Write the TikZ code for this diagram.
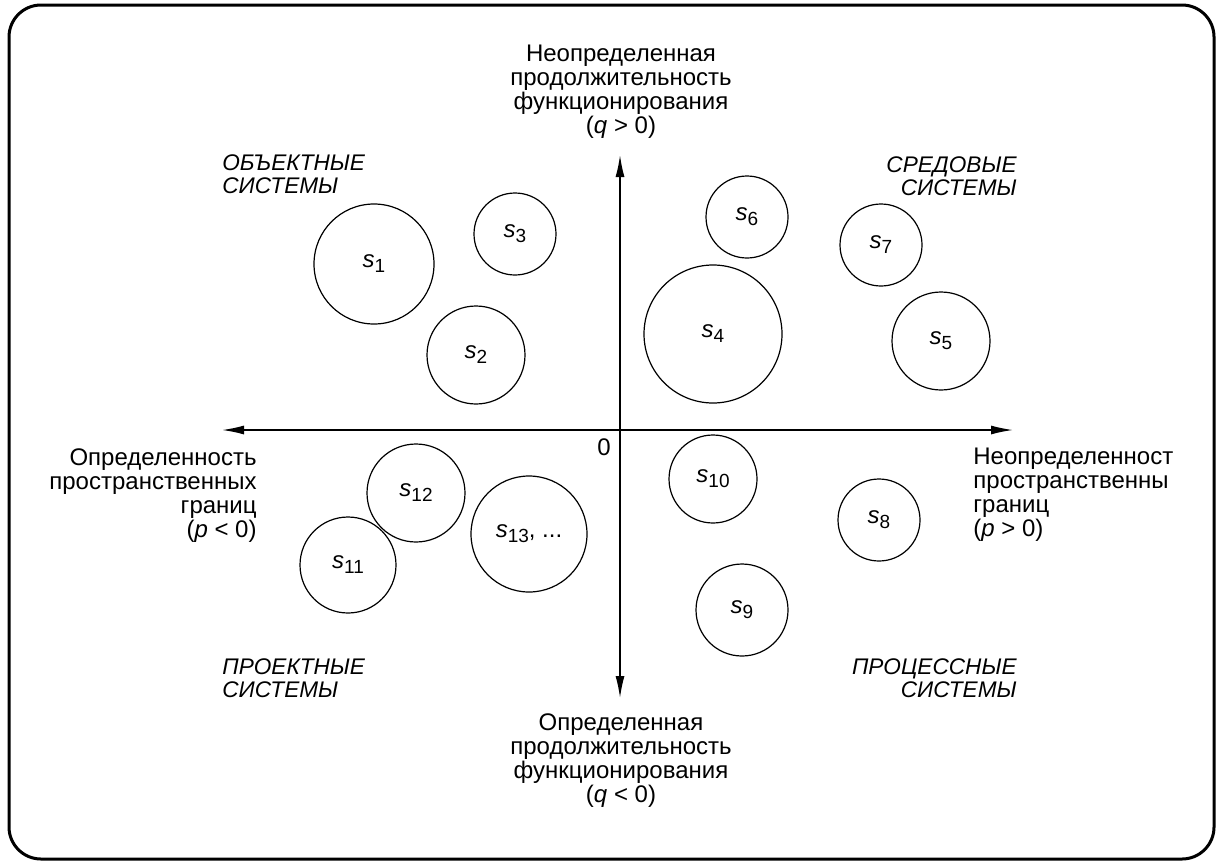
\documentclass[tikz,border=0pt]{standalone}
\usepackage{fontspec}
\setmainfont{Liberation Sans}
\usetikzlibrary{arrows.meta}

\newcommand{\sysl}[1]{\textit{s}{\fontsize{9.5}{10}\selectfont\raisebox{-2.5pt}{#1}}}

\begin{document}
\begin{tikzpicture}[x=0.5pt,y=-0.5pt,font=\fontsize{12}{12}\selectfont]

\tikzset{
    sys/.style={circle,draw,line width=0.6pt,inner sep=0pt,minimum size=#1},
    lbl/.style={inner sep=0pt,align=#1},
    quad/.style={inner sep=0pt,align=#1,font=\fontsize{11.3}{11.5}\selectfont\itshape},
    axis/.style={line width=0.75pt,-{Latex[length=11pt,width=4.5pt]}}}

\useasboundingbox (0,0) rectangle (1218,862);
\draw[line width=1.5pt,rounded corners=16pt] (9,5) rectangle (1214,859);

% axes
\coordinate (O) at (620,430);
\coordinate (L) at (222,430);
\coordinate (R) at (1013,430);
\coordinate (T) at (620,155);
\coordinate (B) at (620,698);
\draw[axis] (O) -- (L);
\draw[axis] (O) -- (R);
\draw[axis] (O) -- (T);
\draw[axis] (O) -- (B);
\node[lbl=center] (zero) at (604,447) {0};

% axis labels
\node[lbl=center, anchor=north] (qpos) at (621,45)
    {Неопределенная\\продолжительность\\функционирования\\(\textit{q} > 0)};
\node[lbl=center, anchor=north] (qneg) at (621,713)
    {Определенная\\продолжительность\\функционирования\\(\textit{q} < 0)};
\node[lbl=right, anchor=north east] (pneg) at (257,448)
    {Определенность\\пространственных\\границ\\(\textit{p} < 0)};
\node[lbl=left, anchor=north west] (ppos) at (973,448)
    {Неопределенност\\пространственны\\границ\\(\textit{p} > 0)};

% quadrants
\node[quad=left, anchor=north west] (obj) at (222,154) {ОБЪЕКТНЫЕ\\СИСТЕМЫ};
\node[quad=right, anchor=north east] (env) at (1017,156) {СРЕДОВЫЕ\\СИСТЕМЫ};
\node[quad=left, anchor=north west] (proj) at (222,658) {ПРОЕКТНЫЕ\\СИСТЕМЫ};
\node[quad=right, anchor=north east] (proc) at (1017,658) {ПРОЦЕССНЫЕ\\СИСТЕМЫ};

% systems
\node[sys=60pt] (s1) at (374,264) {\sysl{1}};
\node[sys=49pt] (s2) at (476,355) {\sysl{2}};
\node[sys=41pt] (s3) at (515,234) {\sysl{3}};
\node[sys=69pt] (s4) at (713,334) {\sysl{4}};
\node[sys=49pt] (s5) at (941,341) {\sysl{5}};
\node[sys=41pt] (s6) at (747,217) {\sysl{6}};
\node[sys=41pt] (s7) at (881,245) {\sysl{7}};
\node[sys=41pt] (s8) at (879,520) {\sysl{8}};
\node[sys=46pt] (s9) at (742,610) {\sysl{9}};
\node[sys=44pt] (s10) at (713,479) {\sysl{10}};
\node[sys=48pt] (s11) at (348,565) {\sysl{11}};
\node[sys=49pt] (s12) at (416,493) {\sysl{12}};
\node[sys=58pt] (s13) at (529,534) {\sysl{13}, ...};

\end{tikzpicture}
\end{document}
